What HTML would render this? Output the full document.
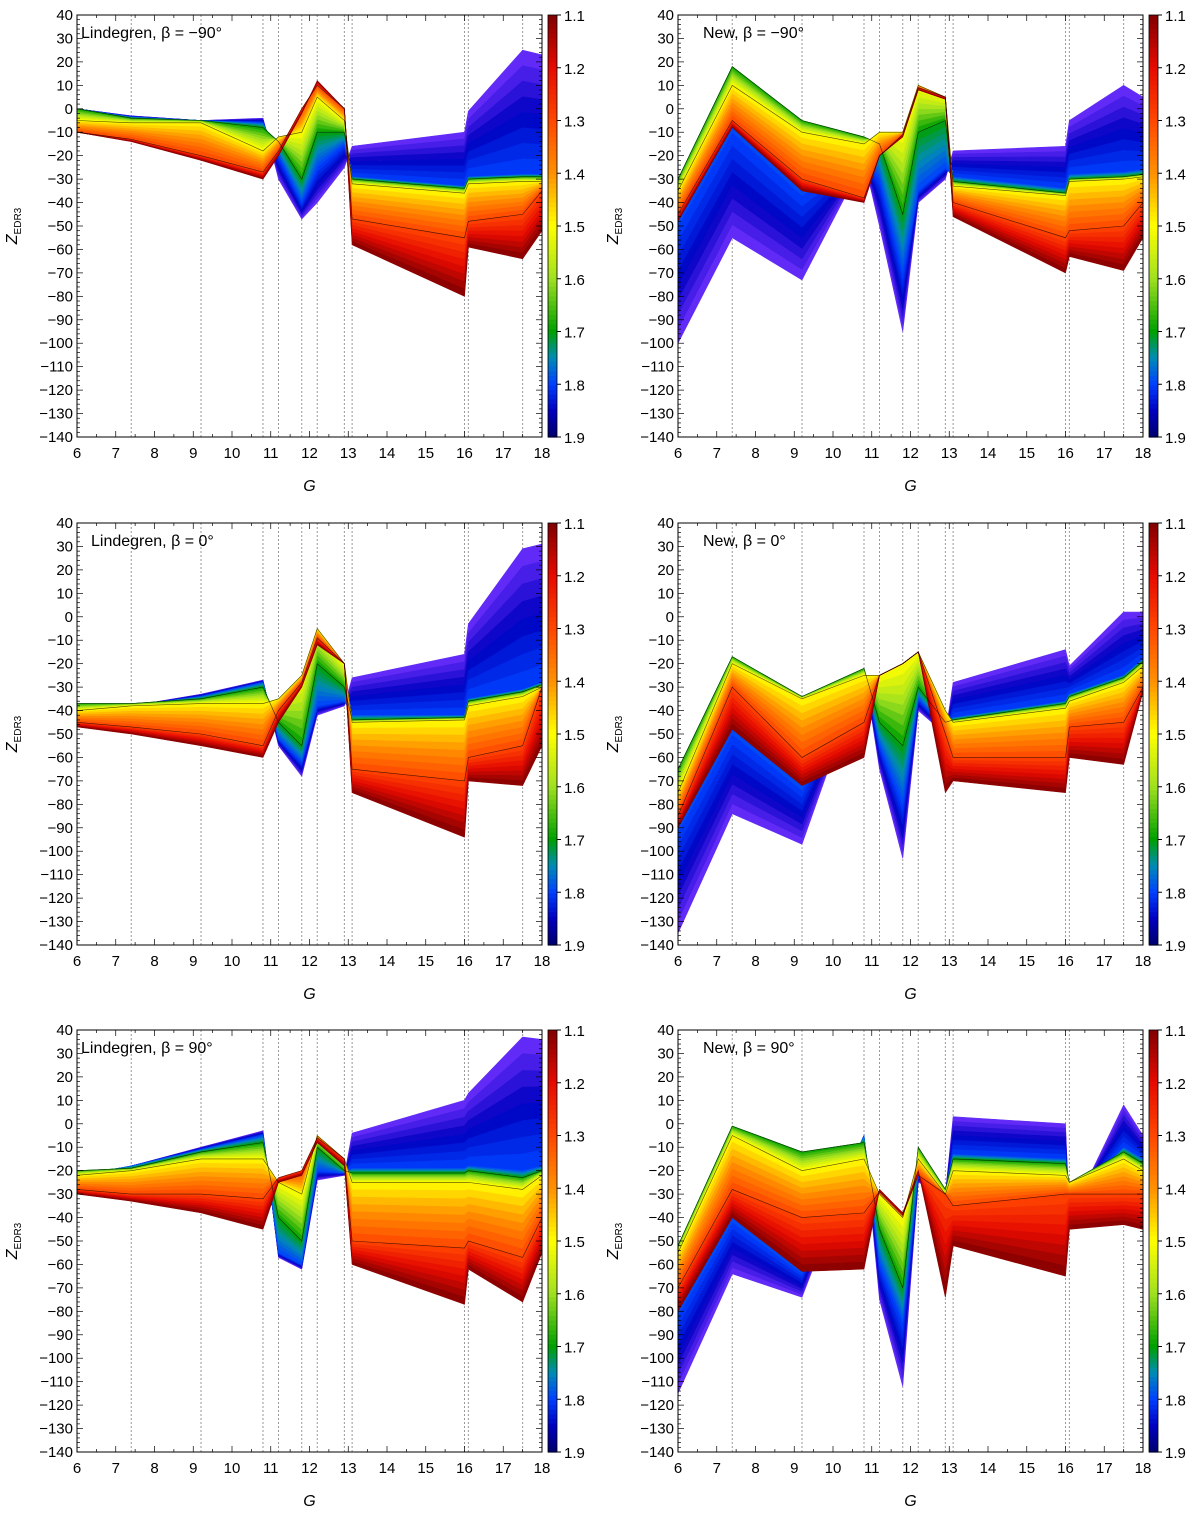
<!DOCTYPE html>
<html><head><meta charset="utf-8"><style>
body{margin:0;background:#fff;font-family:"Liberation Sans",sans-serif;}
svg text{font-family:"Liberation Sans",sans-serif;}
</style></head><body>
<svg id="fig" width="1200" height="1513" xmlns="http://www.w3.org/2000/svg"></svg>
<script>
const knotsG=[6,7.4,9.2,10.8,11.2,11.8,12.2,12.9,13.1,16,16.1,17.5,18];
const colorLevels=[1.1,1.3,1.5,1.7,1.8,1.9];
const yTicks=[40,30,20,10,0,-10,-20,-30,-40,-50,-60,-70,-80,-90,-100,-110,-120,-130,-140];
const xTicks=[6,7,8,9,10,11,12,13,14,15,16,17,18];
const cbTicks=[1.1,1.2,1.3,1.4,1.5,1.6,1.7,1.8,1.9];
const panelTitles=["Lindegren, β = −90°","New, β = −90°","Lindegren, β = 0°","New, β = 0°","Lindegren, β = 90°","New, β = 90°"];
const p1=[[-10,-14,-22,-30,-20,-2,12,0,-58,-80,-59,-64,-52],
[-10,-13,-20,-27,-18,0,10,0,-47,-55,-48,-45,-35],
[-5,-6,-6,-18,-12,-10,5,-5,-32,-36,-32,-31,-31],
[0,-4,-5,-8,-14,-30,-10,-10,-30,-34,-30,-29,-29],
[0,-3.5,-5,-6,-20,-40,-25,-15,-29,-33,-29,-28,-28],
[0,-3,-5,-4,-30,-47,-40,-25,-16,-10,-1,25,23]];
const p2=[[-48,-8,-35,-40,-20,-12,8,4,-46,-70,-63,-69,-55],
[-45,-5,-30,-38,-20,-11,9,5,-40,-55,-52,-50,-40],
[-35,10,-10,-15,-10,-10,10,5,-33,-37,-31,-30,-29],
[-30,18,-5,-12,-15,-45,-10,-5,-31,-36,-30,-29,-28],
[-50,-10,-37,-21,-30,-70,-35,-25,-29,-34,-28,-27,-26],
[-100,-55,-73,-22,-50,-95,-40,-30,-18,-16,-5,10,5]];
const p3=[[-47,-50,-55,-60,-45,-30,-12,-20,-75,-94,-70,-72,-55],
[-45,-47,-50,-55,-40,-28,-9,-20,-65,-70,-60,-55,-30],
[-40,-38,-37,-37,-35,-25,-5,-20,-45,-44,-38,-34,-30],
[-37,-37,-35,-30,-45,-55,-20,-30,-44,-43,-36,-32,-29],
[-40,-38,-34,-28,-52,-62,-38,-36,-42,-42,-35,-31,-28],
[-42,-38,-33,-27,-55,-68,-42,-38,-26,-16,-3,29,31]];
const p4=[[-90,-48,-72,-60,-25,-20,-15,-75,-70,-75,-60,-63,-32],
[-85,-30,-60,-45,-25,-20,-15,-50,-60,-60,-47,-45,-30],
[-75,-20,-35,-25,-25,-20,-15,-40,-45,-39,-36,-28,-21],
[-65,-17,-34,-22,-45,-55,-30,-45,-44,-37,-34,-26,-19],
[-92,-50,-74,-23,-55,-80,-35,-48,-43,-36,-33,-25,-18],
[-135,-84,-97,-22,-65,-103,-40,-50,-28,-14,-21,2,2]];
const p5=[[-30,-33,-38,-45,-25,-22,-8,-18,-60,-77,-62,-76,-55],
[-28,-30,-30,-32,-23,-20,-6,-15,-50,-53,-50,-57,-40],
[-22,-20,-15,-15,-25,-30,-5,-15,-25,-25,-25,-28,-22],
[-20,-19,-12,-8,-40,-50,-10,-20,-21,-21,-20,-23,-20],
[-22,-18,-11,-5,-55,-60,-20,-21,-19,-19,-18,-20,-18],
[-25,-18,-10,-3,-57,-62,-24,-22,-4,10,13,37,36]];
const p6=[[-80,-40,-63,-62,-28,-38,-20,-74,-52,-65,-45,-43,-45],
[-70,-28,-40,-38,-29,-39,-22,-30,-35,-30,-30,-30,-30],
[-55,-5,-20,-15,-30,-40,-15,-30,-20,-22,-25,-15,-20],
[-52,-1,-12,-8,-45,-70,-10,-28,-15,-17,-25,-12,-17],
[-82,-42,-64,-5,-60,-85,-22,-29,-13,-15,-35,-10,-15],
[-115,-64,-74,-5,-75,-112,-25,-30,3,0,-40,8,-5]];
const panelsData=[p1,p2,p3,p4,p5,p6];

const NS="http://www.w3.org/2000/svg";
const svg=document.getElementById('fig');
function mk(tag,attrs,parent){const e=document.createElementNS(NS,tag);for(const k in attrs)e.setAttribute(k,attrs[k]);(parent||svg).appendChild(e);return e;}
const stops=[[1.1,[128,0,0]],[1.2,[230,10,0]],[1.3,[255,70,0]],[1.4,[255,145,0]],[1.5,[255,255,0]],[1.6,[160,224,32]],[1.7,[0,160,0]],[1.75,[0,140,180]],[1.8,[0,64,255]],[1.85,[0,0,192]],[1.9,[112,48,255]]];
function cmap(c,bar){let s=stops.slice();if(bar)s[s.length-1]=[1.9,[0,0,110]];
 if(c<=s[0][0])return 'rgb('+s[0][1]+')';
 for(let i=0;i<s.length-1;i++){if(c<=s[i+1][0]){const t=(c-s[i][0])/(s[i+1][0]-s[i][0]);const a=s[i][1],b=s[i+1][1];return 'rgb('+a.map((v,k)=>Math.round(v+(b[k]-v)*t)).join(',')+')';}}
 return 'rgb('+s[s.length-1][1]+')';}

const cols=[{x0:77,x1:542,cb:548},{x0:678,x1:1143,cb:1149}];
const rows=[15,523,1030];
const H=422;
panelsData.forEach((data,pi)=>{
 const col=cols[pi%2],y0=rows[Math.floor(pi/2)];
 const xs=g=>col.x0+(g-6)/12*(col.x1-col.x0);
 const ys=v=>y0+(40-v)/180*H;
 const g=mk('g',{},svg);
 
 
 const cid='clip'+pi;
 const cp=mk('clipPath',{id:cid},g);mk('rect',{x:col.x0,y:y0,width:col.x1-col.x0,height:H},cp);
 knotsG.slice(1,-1).forEach(k=>{const l=mk('line',{x1:xs(k),x2:xs(k),y1:y0,y2:y0+H,stroke:'#999','stroke-dasharray':'2,2','stroke-width':1},g);
  });
 const fills=mk('g',{'clip-path':'url(#'+cid+')'},g);
 
 const K=8;
 for(let i=data.length-2;i>=0;i--){
  const A=data[i],B=data[i+1];
  for(let k=K-1;k>=0;k--){
   const t0=k/K,t1=(k+1)/K;
   const lo=A.map((v,j)=>v+(B[j]-v)*t0),hi=A.map((v,j)=>v+(B[j]-v)*t1);
   const pts=knotsG.map((gg,j)=>xs(gg)+','+ys(hi[j])).concat(knotsG.map((gg,j)=>xs(gg)+','+ys(lo[j])).reverse()).join(' ');
   const c=colorLevels[i]+(colorLevels[i+1]-colorLevels[i])*(t0+t1)/2;
   const cl=cmap(c,false);
   const p=mk('polygon',{points:pts,fill:cl,stroke:cl,'stroke-width':0.6},fills);
   
  }
 }
 data.forEach((cur,i)=>{if(i===0||i>=data.length-2)return;
  const pl=mk('polyline',{points:knotsG.map((gg,j)=>xs(gg)+','+ys(cur[j])).join(' '),fill:'none',stroke:'#000','stroke-width':0.6,'stroke-opacity':0.7},fills);
  });
 const fr=mk('rect',{x:col.x0,y:y0,width:col.x1-col.x0,height:H,fill:'none',stroke:'#000','stroke-width':1},g);
 
 for(let v=-140;v<=40;v+=2){const major=v%10===0;const L=major?6:3;
  mk('line',{x1:col.x0,x2:col.x0+L,y1:ys(v),y2:ys(v),stroke:'#000','stroke-width':0.7},g);
  mk('line',{x1:col.x1,x2:col.x1-L,y1:ys(v),y2:ys(v),stroke:'#000','stroke-width':0.7},g);}
 yTicks.forEach(v=>{const t=mk('text',{x:col.x0-4,y:ys(v)+5,'text-anchor':'end','font-size':15},g);t.textContent=v<0?'−'+(-v):v;
  });
 for(let gg=6;gg<=18;gg+=0.5){const L=(gg%1===0)?6:3;
  mk('line',{x1:xs(gg),x2:xs(gg),y1:y0+H,y2:y0+H-L,stroke:'#000','stroke-width':0.7},g);
  mk('line',{x1:xs(gg),x2:xs(gg),y1:y0,y2:y0+L,stroke:'#000','stroke-width':0.7},g);}
 xTicks.forEach(v=>{const t=mk('text',{x:xs(v),y:y0+H+21,'text-anchor':'middle','font-size':15},g);t.textContent=v;
  });
 const xt=mk('text',{x:(col.x0+col.x1)/2,y:y0+H+54,'text-anchor':'middle','font-size':16,'font-style':'italic','font-family':'Liberation Serif'},g);xt.textContent='G';
 
 const yt=mk('text',{transform:'translate('+(col.x0-60)+','+(y0+H/2)+') rotate(-90)','text-anchor':'middle','font-size':16,'font-family':'Liberation Serif','font-style':'italic'},g);
 yt.innerHTML='Z<tspan font-size="10" dy="4" font-style="normal">EDR3</tspan>';
 
 const tt=mk('text',{x:col.x0+(pi%2?25:4)+(pi===2?10:0),y:y0+23,'font-size':16},g);tt.textContent=panelTitles[pi];
 
 const cb=mk('g',{},g);
 const N=90;for(let k=0;k<N;k++){const c=1.1+0.8*(k+0.5)/N;
  mk('rect',{x:col.cb,y:y0+H*k/N,width:9,height:H/N+0.6,fill:cmap(c,true)},cb);}
 mk('rect',{x:col.cb,y:y0,width:9,height:H,fill:'none',stroke:'#000','stroke-width':0.8},cb);
 cbTicks.forEach(v=>{const yy=y0+(v-1.1)/0.8*H;mk('line',{x1:col.cb+9,x2:col.cb+13,y1:yy,y2:yy,stroke:'#000'},cb);
  const t=mk('text',{x:col.cb+16,y:yy+6,'font-size':15},cb);t.textContent=v.toFixed(1);
  });
});
</script>
</body></html>
